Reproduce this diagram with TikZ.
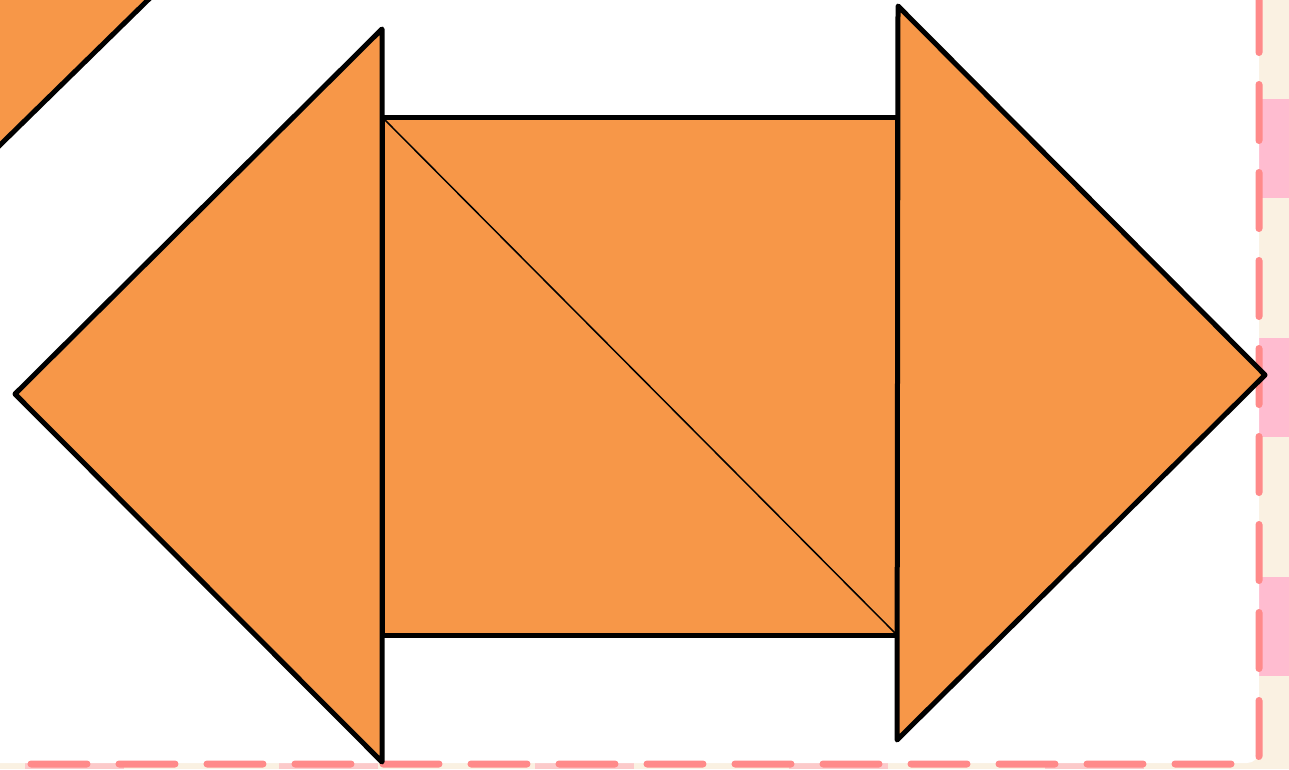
\documentclass[tikz,border=0pt]{standalone}
\definecolor{orangefill}{HTML}{F79748}
\definecolor{creambg}{HTML}{FAF1E2}
\definecolor{pinkpatch}{HTML}{FFBCD0}
\definecolor{pinklight}{HTML}{FCCACA}
\definecolor{dashpink}{HTML}{FF8A8A}
\tikzset{
  shapeline/.style={draw=black, line width=5pt, line join=round, fill=orangefill},
  thinline/.style={draw=black, line width=1.5pt},
  borderdash/.style={draw=dashpink, line width=7pt, line cap=round, dash pattern=on 56pt off 32pt, rounded corners=8pt}
}
\begin{document}
\begin{tikzpicture}[x=1pt,y=-1pt]
\useasboundingbox (0,0) rectangle (1289,769);
\clip (0,0) rectangle (1289,769);
% background
\fill[creambg] (0,0) rectangle (1289,769);
\foreach \y in {99,338,577} {\fill[pinkpatch] (1259,\y) rectangle (1289,\y+99);}
\foreach \x in {25,279,535,789,1045} {\fill[pinklight] (\x,763) rectangle (\x+99,769);}
\fill[white, rounded corners=12pt] (-20,-20) -- (1259,-20) -- (1259,763) -- (-20,763) -- cycle;
% dashed border
\coordinate (bStart) at (1259,-3.5);
\coordinate (bCorner) at (1259,764);
\coordinate (bEnd) at (0,764);
\draw[borderdash] (bStart) -- (bCorner) -- (bEnd);
% named vertices
\coordinate (tlA) at (150,-2);
\coordinate (tlB) at (-2,147);
\coordinate (lT) at (382,29);
\coordinate (lA) at (15,394);
\coordinate (lB) at (382,762);
\coordinate (s1) at (382,117);
\coordinate (s2) at (897,117);
\coordinate (s3) at (897,635);
\coordinate (s4) at (382,635);
\coordinate (rT) at (898,6);
\coordinate (rA) at (1265,375);
\coordinate (rB) at (897,740);
% top-left fragment
\fill[orangefill] (-10,-10) -- (160,-10) -- (tlA) -- (tlB) -- (-10,157) -- cycle;
\draw[black, line width=5pt] (tlA) -- (tlB);
% square
\filldraw[shapeline] (s1) -- (s2) -- (s3) -- (s4) -- cycle;
\draw[thinline] (s1) -- (s3);
% triangles
\filldraw[shapeline] (lT) -- (lA) -- (lB) -- cycle;
\filldraw[shapeline] (rT) -- (rA) -- (rB) -- cycle;
\end{tikzpicture}
\end{document}
